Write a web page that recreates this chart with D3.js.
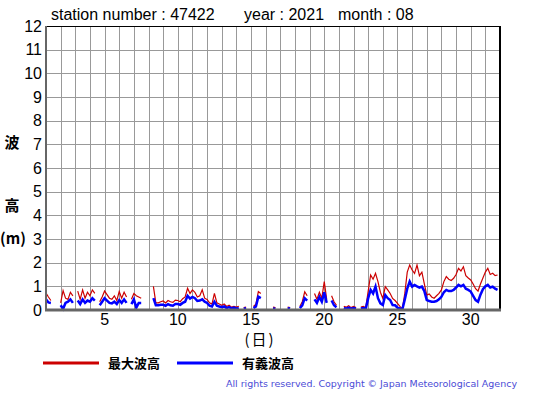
<!DOCTYPE html>
<html>
<head>
<meta charset="utf-8">
<script src="https://cdn.jsdelivr.net/npm/d3@7"></script>
<style>
body { margin: 0; background: #fff; }
text { font-family: "Liberation Sans", Arial, sans-serif; }
.jp { font-family: "Noto Sans CJK JP", sans-serif; }
</style>
</head>
<body>
<svg id="chart" width="555" height="395"></svg>
<script>
// 4-hourly values, 6 per day, day 1 .. 31 (null = no data)
var maxWave = [
    0.72, 0.55, 0.40, null, null, null,
    0.30, 0.82, 0.50, 0.45, 0.75, 0.60,
    null, 0.80, 0.45, 0.85, 0.50, 0.75,
    0.60, 0.85, 0.70, null, 0.35, 0.55,
    0.80, 0.65, 0.50, 0.45, 0.60, 0.40,
    0.78, 0.50, 0.75, 0.55, null, 0.45,
    0.70, 0.60, 0.55, 0.50, null, null,
    null, null, 1.00, 0.30, 0.30, 0.35,
    0.38, 0.30, 0.40, 0.35, 0.32, 0.42,
    0.40, 0.35, 0.48, 0.55, 0.92, 0.70,
    0.85, 0.75, 0.55, 0.60, 0.85, 0.50,
    0.45, 0.30, 0.25, 0.70, 0.30, 0.25,
    0.20, 0.25, 0.15, 0.20, 0.12, 0.15,
    0.12, 0.15, null, 0.10, 0.12, null,
    null, 0.15, 0.25, 0.78, 0.70, null,
    null, null, null, 0.12, 0.10, null,
    null, null, null, 0.12, 0.10, null,
    null, null, 0.15, 0.35, 0.77, 0.60,
    null, null, 0.70, 0.45, 0.75, 0.50,
    1.20, 0.45, null, 0.60, 0.35, 0.20,
    null, null, 0.15, 0.12, 0.18, 0.10,
    0.15, 0.10, null, 0.12, 0.15, 0.10,
    0.80, 1.48, 1.30, 1.55, 1.20, 0.75,
    0.49, 0.99, 0.85, 0.70, 0.49, 0.40,
    0.28, 0.15, 0.05, 0.70, 1.60, 1.90,
    1.69, 1.55, 1.90, 1.45, 1.60, 1.10,
    0.63, 0.68, 0.55, 0.50, 0.60, 0.70,
    0.85, 1.20, 1.41, 1.30, 1.25, 1.34,
    1.50, 1.76, 1.65, 1.83, 1.45, 1.35,
    1.27, 1.10, 0.90, 0.80, 1.10, 1.35,
    1.60, 1.76, 1.50, 1.55, 1.45, 1.48
];
var sigWave = [
    0.45, 0.32, 0.30, null, null, null,
    0.20, 0.05, 0.30, 0.35, 0.45, 0.30,
    null, 0.40, 0.25, 0.45, 0.30, 0.40,
    0.35, 0.50, 0.40, null, 0.20, 0.35,
    0.50, 0.40, 0.30, 0.28, 0.35, 0.25,
    0.42, 0.30, 0.45, 0.30, null, 0.25,
    0.45, 0.10, 0.30, 0.30, null, null,
    null, null, 0.50, 0.20, 0.20, 0.22,
    0.22, 0.18, 0.25, 0.20, 0.18, 0.25,
    0.25, 0.22, 0.30, 0.35, 0.60, 0.48,
    0.55, 0.50, 0.38, 0.40, 0.45, 0.35,
    0.30, 0.18, 0.15, 0.35, 0.18, 0.15,
    0.12, 0.15, 0.08, 0.12, 0.07, 0.10,
    0.06, 0.08, null, 0.05, 0.07, null,
    null, 0.08, 0.15, 0.56, 0.50, null,
    null, null, null, 0.06, 0.05, null,
    null, null, null, 0.08, 0.06, null,
    null, null, 0.08, 0.20, 0.50, 0.40,
    null, null, 0.45, 0.30, 0.55, 0.35,
    0.75, 0.30, null, 0.40, 0.20, 0.12,
    null, null, 0.08, 0.06, 0.10, 0.05,
    0.08, 0.05, null, 0.06, 0.08, 0.05,
    0.50, 0.85, 0.70, 0.99, 0.50, 0.28,
    0.21, 0.63, 0.50, 0.42, 0.21, 0.20,
    0.10, 0.07, 0.03, 0.45, 0.90, 1.20,
    0.99, 1.06, 1.00, 0.95, 0.99, 0.80,
    0.42, 0.38, 0.35, 0.35, 0.38, 0.45,
    0.56, 0.75, 0.85, 0.80, 0.80, 0.85,
    0.95, 1.06, 1.00, 1.06, 0.90, 0.85,
    0.78, 0.60, 0.42, 0.35, 0.65, 0.88,
    1.00, 1.06, 0.95, 0.99, 0.90, 0.85
];
var xTicks = [5, 10, 15, 20, 25, 30];
var yTicks = [0, 1, 2, 3, 4, 5, 6, 7, 8, 9, 10, 11, 12];
var legendNames = ["最大波高", "有義波高"];
var perDay = 6;

var svg = d3.select("#chart");
var plotLeft = 46, plotRight = 500, plotTop = 26, plotBottom = 310;

var x = d3.scaleLinear().domain([1, 32]).range([plotLeft, plotRight]);
var y = d3.scaleLinear().domain([0, 12]).range([plotBottom, plotTop]);

// grid
svg.append("g")
    .attr("transform", "translate(0," + plotBottom + ")")
    .call(d3.axisBottom(x).tickValues(d3.range(2, 32)).tickSize(-(plotBottom - plotTop)).tickFormat(""))
    .call(function(g) {
        g.select(".domain").remove();
        g.selectAll("line").attr("stroke", "#999").attr("shape-rendering", "crispEdges");
    });
svg.append("g")
    .attr("transform", "translate(" + plotLeft + ",0)")
    .call(d3.axisLeft(y).tickValues(d3.range(1, 12)).tickSize(-(plotRight - plotLeft)).tickFormat(""))
    .call(function(g) {
        g.select(".domain").remove();
        g.selectAll("line").attr("stroke", "#999").attr("shape-rendering", "crispEdges");
    });

// frame
svg.append("line").attr("x1", plotLeft).attr("x2", plotRight).attr("y1", plotTop).attr("y2", plotTop)
    .attr("stroke", "#000").attr("shape-rendering", "crispEdges");
svg.append("line").attr("x1", plotRight).attr("x2", plotRight).attr("y1", plotTop).attr("y2", plotBottom)
    .attr("stroke", "#000").attr("stroke-width", 2).attr("shape-rendering", "crispEdges");

// series
function timeOf(i) { return 1 + i / perDay; }
var line = d3.line()
    .defined(function(d) { return d != null; })
    .x(function(d, i) { return x(timeOf(i)); })
    .y(function(d) { return y(d); });

svg.append("path").datum(maxWave)
    .attr("fill", "none").attr("stroke", "#cc0000").attr("stroke-width", 1.2)
    .attr("d", line);
svg.append("path").datum(sigWave)
    .attr("fill", "none").attr("stroke", "#0000ff").attr("stroke-width", 2.5)
    .attr("d", line);

// axis lines
svg.append("line").attr("x1", plotLeft).attr("x2", plotLeft).attr("y1", plotTop).attr("y2", plotBottom)
    .attr("stroke", "#666").attr("stroke-width", 2);
svg.append("line").attr("x1", plotLeft - 1).attr("x2", plotRight + 1).attr("y1", plotBottom).attr("y2", plotBottom)
    .attr("stroke", "#666").attr("stroke-width", 3);

// tick labels
svg.selectAll(".ylab").data(yTicks).enter().append("text")
    .attr("class", "ylab")
    .attr("x", 42).attr("y", function(d) { return y(d); })
    .attr("dy", "0.36em").attr("text-anchor", "end")
    .style("font-size", "16px")
    .text(function(d) { return d; });
svg.selectAll(".xlab").data(xTicks).enter().append("text")
    .attr("class", "xlab")
    .attr("x", function(d) { return x(d); }).attr("y", 319)
    .attr("dy", "0.36em").attr("text-anchor", "middle")
    .style("font-size", "16px")
    .text(function(d) { return d; });

svg.append("text").attr("class", "jp").attr("x", 260).attr("y", 340).attr("dy", "0.36em")
    .attr("text-anchor", "middle").style("font-size", "15px").style("letter-spacing", "2px").text("(日)");

// y title
svg.append("text").attr("class", "jp").attr("x", 12).attr("y", 143).attr("dy", "0.36em")
    .attr("text-anchor", "middle").style("font-size", "15px").style("font-weight", "bold").text("波");
svg.append("text").attr("class", "jp").attr("x", 12).attr("y", 206).attr("dy", "0.36em")
    .attr("text-anchor", "middle").style("font-size", "15px").style("font-weight", "bold").text("高");
svg.append("text").attr("class", "jp").attr("x", 13).attr("y", 239).attr("dy", "0.36em")
    .attr("text-anchor", "middle").style("font-size", "15px").style("font-weight", "bold").text("(m)");

// title
svg.append("text").attr("x", 51).attr("y", 20).style("font-size", "16px").text("station number : 47422");
svg.append("text").attr("x", 244).attr("y", 20).style("font-size", "16px").text("year : 2021");
svg.append("text").attr("x", 338).attr("y", 20).style("font-size", "16px").text("month : 08");

// legend
var legendColors = ["#cc0000", "#0000ff"];
var legendX = [43, 177];
legendNames.forEach(function(name, i) {
    svg.append("line").attr("x1", legendX[i]).attr("x2", legendX[i] + 56)
        .attr("y1", 363).attr("y2", 363)
        .attr("stroke", legendColors[i]).attr("stroke-width", 3);
    svg.append("text").attr("class", "jp").attr("x", legendX[i] + 65).attr("y", 363).attr("dy", "0.36em")
        .style("font-size", "13px").style("font-weight", "bold").text(name);
});

svg.append("text").attr("x", 226).attr("y", 384).attr("dy", "0.36em")
    .attr("textLength", 291).attr("lengthAdjust", "spacing")
    .style("font-family", "DejaVu Sans, sans-serif")
    .style("font-size", "9.5px").attr("fill", "#4b4bd6")
    .text("All rights reserved. Copyright © Japan Meteorological Agency");
</script>
</body>
</html>
